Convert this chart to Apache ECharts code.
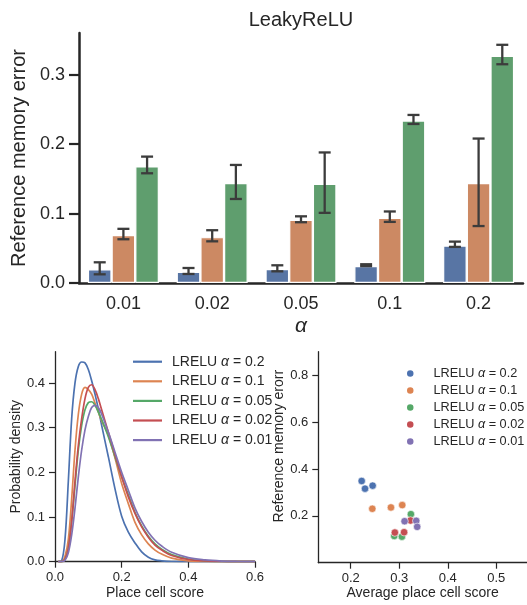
<!DOCTYPE html>
<html>
<head>
<meta charset="utf-8">
<script src="https://cdn.jsdelivr.net/npm/echarts@6/dist/echarts.min.js"></script>
<style>
html,body{margin:0;padding:0;background:#fff;}
#chart{width:527px;height:605px;}
</style>
</head>
<body>
<div id="chart"></div>
<script>
// ---------- Top panel: bar chart ----------
const alphaLabels = ['0.01', '0.02', '0.05', '0.1', '0.2'];
const barBlue   = [0.0197, 0.0163, 0.0200, 0.0245, 0.0540];
const barOrange = [0.0690, 0.0660, 0.0910, 0.0940, 0.1440];
const barGreen  = [0.1680, 0.1440, 0.1430, 0.2340, 0.3270];
const errBlueLo   = [0.0125, 0.0130, 0.0168, 0.0243, 0.0520];
const errBlueHi   = [0.0298, 0.0216, 0.0255, 0.0270, 0.0596];
const errOrangeLo = [0.0630, 0.0600, 0.0875, 0.0880, 0.0820];
const errOrangeHi = [0.0780, 0.0760, 0.0960, 0.1030, 0.2080];
const errGreenLo  = [0.1580, 0.1210, 0.1010, 0.2290, 0.3150];
const errGreenHi  = [0.1820, 0.1700, 0.1880, 0.2420, 0.3430];
const yTicksTop = [0, 0.1, 0.2, 0.3];

// ---------- Bottom-left: density ----------
const densityX = [0.01,0.02,0.03,0.04,0.05,0.06,0.07,0.08,0.09,0.10,0.11,0.12,0.13,0.14,0.16,0.18,0.20,0.22,0.24,0.26,0.28,0.30,0.32,0.35,0.40,0.45,0.50,0.55,0.60];
const dens02  = [0,0.002,0.05,0.18,0.32,0.40,0.437,0.447,0.445,0.43,0.405,0.375,0.342,0.305,0.235,0.163,0.102,0.066,0.042,0.022,0.010,0.004,0.002,0.0005,0,0,0,0,0];
const dens01  = [0,0,0.012,0.05,0.14,0.25,0.33,0.375,0.39,0.385,0.375,0.355,0.335,0.315,0.283,0.232,0.175,0.13,0.088,0.06,0.04,0.026,0.017,0.008,0.002,0.0005,0,0,0];
const dens005 = [0,0,0.005,0.03,0.09,0.17,0.25,0.305,0.34,0.356,0.358,0.35,0.335,0.318,0.28,0.235,0.19,0.15,0.11,0.08,0.057,0.04,0.028,0.016,0.006,0.002,0.0005,0,0];
const dens002 = [0,0,0.005,0.03,0.09,0.18,0.26,0.32,0.365,0.39,0.396,0.385,0.365,0.34,0.29,0.24,0.19,0.145,0.108,0.078,0.055,0.037,0.026,0.014,0.005,0.002,0.0005,0,0];
const dens001 = [0,0,0.003,0.02,0.06,0.12,0.19,0.25,0.295,0.325,0.345,0.35,0.345,0.33,0.29,0.245,0.2,0.16,0.12,0.09,0.066,0.048,0.035,0.021,0.009,0.004,0.0015,0.0005,0];
const densXTicks = [0, 0.2, 0.4, 0.6];
const densYTicks = [0, 0.1, 0.2, 0.3, 0.4];

// ---------- Bottom-right: scatter ----------
const scoreA02  = [0.2226, 0.2295, 0.2452];
const errA02    = [0.3486, 0.3157, 0.3286];
const scoreA01  = [0.2445, 0.2829, 0.3062];
const errA01    = [0.2300, 0.2357, 0.2457];
const scoreA005 = [0.3240, 0.2897, 0.3055];
const errA005   = [0.2070, 0.1140, 0.1110];
const scoreA002 = [0.2910, 0.3100, 0.3233];
const errA002   = [0.1286, 0.1300, 0.1800];
const scoreA001 = [0.3110, 0.3350, 0.3370];
const errA001   = [0.1770, 0.1786, 0.1530];
const scatXTicks = [0.2, 0.3, 0.4, 0.5];
const scatYTicks = [0.2, 0.4, 0.6, 0.8];

const seriesNames = ['LRELU α = 0.2', 'LRELU α = 0.1', 'LRELU α = 0.05', 'LRELU α = 0.02', 'LRELU α = 0.01'];
const deep = ['#4C72B0', '#DD8452', '#55A868', '#C44E52', '#8172B3'];
const barColors = ['#5875A4', '#CC8963', '#5F9E6E'];
const FONT = '"Liberation Sans", Arial, sans-serif';
const AX = '#262626';

const chart = echarts.init(document.getElementById('chart'), null, {renderer: 'canvas'});

function zip(a, b) { return a.map((v, i) => [v, b[i]]); }

function errSeries(k, lo, hi) {
  return {
    type: 'custom', xAxisIndex: 0, yAxisIndex: 0, z: 5,
    data: lo.map((v, i) => [i, v, hi[i]]),
    encode: {x: 0, y: [1, 2]},
    renderItem: function (params, api) {
      const cat = api.value(0);
      const band = api.size([1, 0])[0];
      const bw = band * 0.8 / 3;
      const pLo = api.coord([cat, api.value(1)]);
      const pHi = api.coord([cat, api.value(2)]);
      const x = pLo[0] + (k - 1) * bw;
      const cap = 6;
      const st = {stroke: '#3c3c3c', lineWidth: 2.3};
      return {type: 'group', children: [
        {type: 'line', shape: {x1: x, y1: pLo[1], x2: x, y2: pHi[1]}, style: st},
        {type: 'line', shape: {x1: x - cap, y1: pLo[1], x2: x + cap, y2: pLo[1]}, style: st},
        {type: 'line', shape: {x1: x - cap, y1: pHi[1], x2: x + cap, y2: pHi[1]}, style: st}
      ]};
    }
  };
}

function legendFormatter(name) {
  const v = name.split('= ')[1];
  return '{n|LRELU }{a|α}{n| = ' + v + '}';
}

const densSets = [dens02, dens01, dens005, dens002, dens001];
const scatSets = [[scoreA02, errA02], [scoreA01, errA01], [scoreA005, errA005], [scoreA002, errA002], [scoreA001, errA001]];

const option = {
  backgroundColor: '#fff',
  animation: false,
  textStyle: {fontFamily: FONT, color: AX},
  title: {
    text: 'LeakyReLU', left: 301, top: 10, padding: 0, textAlign: 'center',
    textStyle: {fontFamily: FONT, fontSize: 20, fontWeight: 'normal', color: AX}
  },
  grid: [
    {left: 79, right: 4, top: 33, bottom: 322},
    {left: 55, right: 272, top: 351.7, bottom: 43.3},
    {left: 318.3, right: 0, top: 351.7, bottom: 42.3}
  ],
  legend: [
    {
      data: seriesNames, left: 128, top: 349.7, orient: 'vertical',
      icon: 'rect', itemWidth: 29, itemHeight: 2.2, itemGap: 5.6,
      formatter: legendFormatter,
      textStyle: {fontFamily: FONT, fontSize: 14, color: AX, padding: [0, 0, 0, 5], lineHeight: 14,
        rich: {n: {fontFamily: FONT, fontSize: 14, color: AX}, a: {fontFamily: FONT, fontSize: 14, fontStyle: 'italic', color: AX}}},
      selectedMode: false
    },
    {
      data: seriesNames.map(n => ({name: n + ' '})), left: 400, top: 361.6, orient: 'vertical',
      icon: 'circle', itemWidth: 8.5, itemHeight: 8.5, itemGap: 3.3,
      formatter: function (name) { return legendFormatter(name.trim()); },
      textStyle: {fontFamily: FONT, fontSize: 12.7, color: AX, padding: [0, 0, 0, 14], lineHeight: 13.7,
        rich: {n: {fontFamily: FONT, fontSize: 12.7, color: AX}, a: {fontFamily: FONT, fontSize: 12.7, fontStyle: 'italic', color: AX}}},
      selectedMode: false
    }
  ],
  xAxis: [
    {
      type: 'category', gridIndex: 0, data: alphaLabels,
      name: 'α', nameLocation: 'middle', nameGap: 33,
      nameTextStyle: {fontFamily: FONT, fontSize: 21, fontStyle: 'italic', color: AX},
      axisLine: {lineStyle: {color: AX, width: 2.5}},
      axisTick: {alignWithLabel: true, length: 10, lineStyle: {color: AX, width: 2.2}},
      axisLabel: {fontSize: 18, color: AX, margin: 12, fontFamily: FONT},
      splitLine: {show: false}
    },
    {
      type: 'value', gridIndex: 1, min: 0, max: 0.6,
      name: 'Place cell score', nameLocation: 'middle', nameGap: 24,
      nameTextStyle: {fontFamily: FONT, fontSize: 14, color: AX},
      axisLine: {onZero: false, lineStyle: {color: AX, width: 1.3}},
      axisTick: {customValues: densXTicks, length: 6, lineStyle: {color: AX, width: 1.2}},
      axisLabel: {customValues: densXTicks, fontSize: 13, color: AX, margin: 9, fontFamily: FONT, formatter: v => v.toFixed(1)},
      splitLine: {show: false}
    },
    {
      type: 'value', gridIndex: 2, min: 0.1332, max: 0.5633,
      name: 'Average place cell score', nameLocation: 'middle', nameGap: 23,
      nameTextStyle: {fontFamily: FONT, fontSize: 14, color: AX},
      axisLine: {onZero: false, lineStyle: {color: AX, width: 1.3}},
      axisTick: {customValues: scatXTicks, length: 6, lineStyle: {color: AX, width: 1.2}},
      axisLabel: {customValues: scatXTicks, fontSize: 13, color: AX, margin: 9, fontFamily: FONT, formatter: v => v.toFixed(1)},
      splitLine: {show: false}
    }
  ],
  yAxis: [
    {
      type: 'value', gridIndex: 0, min: 0, max: 0.36,
      name: 'Reference memory error', nameLocation: 'middle', nameGap: 40,
      nameTextStyle: {fontFamily: FONT, fontSize: 20, color: AX},
      axisLine: {show: true, lineStyle: {color: AX, width: 2.5}},
      axisTick: {show: true, customValues: yTicksTop, length: 10, lineStyle: {color: AX, width: 2.2}},
      axisLabel: {customValues: yTicksTop, fontSize: 18, color: AX, margin: 14, fontFamily: FONT, formatter: v => v.toFixed(1)},
      splitLine: {show: false}
    },
    {
      type: 'value', gridIndex: 1, min: 0, max: 0.47,
      name: 'Probability density', nameLocation: 'middle', nameGap: 28,
      nameTextStyle: {fontFamily: FONT, fontSize: 14, color: AX},
      axisLine: {show: true, onZero: false, lineStyle: {color: AX, width: 1.3}},
      axisTick: {show: true, customValues: densYTicks, length: 6, lineStyle: {color: AX, width: 1.2}},
      axisLabel: {customValues: densYTicks, fontSize: 13, color: AX, margin: 10, fontFamily: FONT, formatter: v => v.toFixed(1)},
      splitLine: {show: false}
    },
    {
      type: 'value', gridIndex: 2, min: 0, max: 0.9,
      name: 'Reference memory erorr', nameLocation: 'middle', nameGap: 30,
      nameTextStyle: {fontFamily: FONT, fontSize: 14, color: AX, padding: [0, 0, 0, 22]},
      axisLine: {show: true, onZero: false, lineStyle: {color: AX, width: 1.3}},
      axisTick: {show: true, customValues: scatYTicks, length: 6, lineStyle: {color: AX, width: 1.2}},
      axisLabel: {customValues: scatYTicks, fontSize: 13, color: AX, margin: 10, fontFamily: FONT, formatter: v => v.toFixed(1)},
      splitLine: {show: false}
    }
  ],
  series: [
    {type: 'bar', xAxisIndex: 0, yAxisIndex: 0, data: barBlue, barGap: '0%', barCategoryGap: '20%',
      itemStyle: {color: barColors[0], borderColor: '#fff', borderWidth: 1.2}},
    {type: 'bar', xAxisIndex: 0, yAxisIndex: 0, data: barOrange, barGap: '0%', barCategoryGap: '20%',
      itemStyle: {color: barColors[1], borderColor: '#fff', borderWidth: 1.2}},
    {type: 'bar', xAxisIndex: 0, yAxisIndex: 0, data: barGreen, barGap: '0%', barCategoryGap: '20%',
      itemStyle: {color: barColors[2], borderColor: '#fff', borderWidth: 1.2}},
    errSeries(0, errBlueLo, errBlueHi),
    errSeries(1, errOrangeLo, errOrangeHi),
    errSeries(2, errGreenLo, errGreenHi)
  ].concat(densSets.map((d, i) => ({
    type: 'line', name: seriesNames[i], xAxisIndex: 1, yAxisIndex: 1,
    data: zip(densityX, d), smooth: 0.35, showSymbol: false, symbol: 'none',
    lineStyle: {color: deep[i], width: 1.7}, itemStyle: {color: deep[i]}
  }))).concat(scatSets.map((s, i) => ({
    type: 'scatter', name: seriesNames[i] + ' ', xAxisIndex: 2, yAxisIndex: 2,
    data: zip(s[0], s[1]), symbolSize: 7.5,
    itemStyle: {color: deep[i], borderColor: '#fff', borderWidth: 0.6, opacity: 1}
  })))
};

chart.setOption(option);
</script>
</body>
</html>
